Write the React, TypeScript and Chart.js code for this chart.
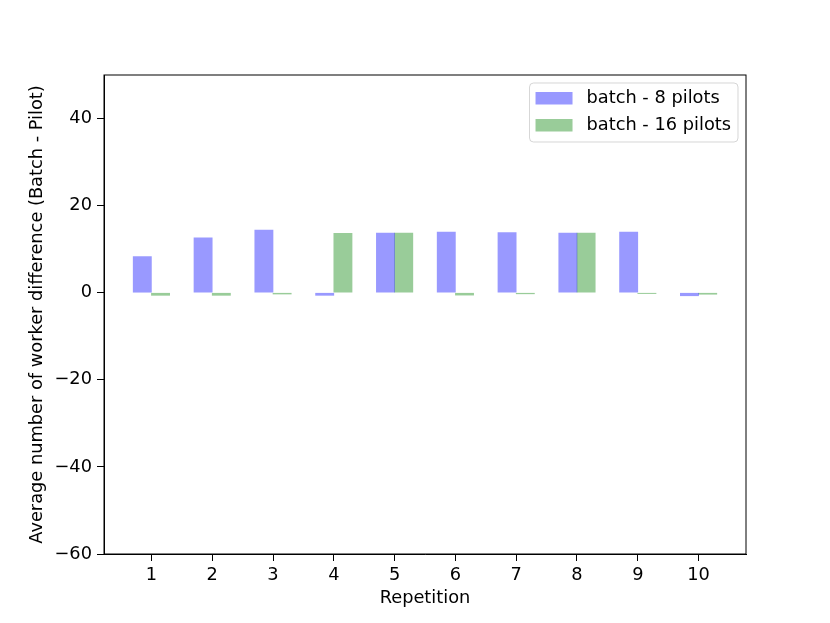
import React, { useEffect, useRef } from "react";
import { Chart, registerables } from "chart.js";

Chart.register(...registerables);

const REPETITIONS = [1, 2, 3, 4, 5, 6, 7, 8, 9, 10];
const BATCH_8 = [8.3, 12.6, 14.4, -0.6, 13.7, 13.9, 13.8, 13.7, 13.9, -0.7];
const BATCH_16 = [-0.6, -0.6, -0.3, 13.65, 13.7, -0.55, -0.25, 13.7, -0.2, -0.35];
const Y_TICKS = [-60, -40, -20, 0, 20, 40];
const SERIES_LABELS = ["batch - 8 pilots", "batch - 16 pilots"];

const FONT = "DejaVu Sans";
const FS = 17.8;

const fmt = (v: number) => (v < 0 ? "\u2212" + Math.abs(v) : String(v));

const framePlugin = {
  id: "frame",
  afterDraw(chart: any) {
    const { ctx, chartArea } = chart;
    ctx.save();
    ctx.strokeStyle = "#000";
    ctx.lineWidth = 1;
    ctx.strokeRect(chartArea.left, chartArea.top, chartArea.right - chartArea.left, chartArea.bottom - chartArea.top);
    ctx.restore();
  },
};

const legendPlugin = {
  id: "mplLegend",
  afterDraw(chart: any) {
    const { ctx, chartArea } = chart;
    const ds = chart.data.datasets;
    ctx.save();
    ctx.font = `${FS}px "${FONT}"`;
    let maxW = 0;
    ds.forEach((d: any) => {
      maxW = Math.max(maxW, ctx.measureText(d.label).width);
    });
    const w = 6 + 37 + 14 + maxW + 7;
    const h = 59;
    const x = chartArea.right - 8 - w;
    const y = chartArea.top + 8;
    const r = 4;
    ctx.beginPath();
    ctx.moveTo(x + r, y);
    ctx.lineTo(x + w - r, y);
    ctx.quadraticCurveTo(x + w, y, x + w, y + r);
    ctx.lineTo(x + w, y + h - r);
    ctx.quadraticCurveTo(x + w, y + h, x + w - r, y + h);
    ctx.lineTo(x + r, y + h);
    ctx.quadraticCurveTo(x, y + h, x, y + h - r);
    ctx.lineTo(x, y + r);
    ctx.quadraticCurveTo(x, y, x + r, y);
    ctx.closePath();
    ctx.fillStyle = "rgba(255,255,255,0.8)";
    ctx.fill();
    ctx.strokeStyle = "rgba(204,204,204,0.8)";
    ctx.lineWidth = 1;
    ctx.stroke();
    ds.forEach((d: any, i: number) => {
      const py = y + 9 + i * 27;
      ctx.fillStyle = d.backgroundColor;
      ctx.fillRect(x + 6, py, 37, 12.5);
      ctx.fillStyle = "#000";
      ctx.textBaseline = "middle";
      ctx.textAlign = "left";
      ctx.fillText(d.label, x + 6 + 37 + 14, py + 6.5);
    });
    ctx.restore();
  },
};

export default function App() {
  const ref = useRef<HTMLCanvasElement | null>(null);
  useEffect(() => {
    if (!ref.current) return;
    Chart.defaults.color = "#000";
    Chart.defaults.font.family = FONT;
    Chart.defaults.font.size = FS;
    const chart = new Chart(ref.current, {
      type: "bar",
      data: {
        datasets: [
          {
            label: SERIES_LABELS[0],
            data: REPETITIONS.map((r, i) => ({ x: r - 0.15, y: BATCH_8[i] })),
            backgroundColor: "rgba(0,0,255,0.4)",
            borderWidth: 0,
            grouped: false,
            categoryPercentage: 1,
            barPercentage: 1,
          } as any,
          {
            label: SERIES_LABELS[1],
            data: REPETITIONS.map((r, i) => ({ x: r + 0.15, y: BATCH_16[i] })),
            backgroundColor: "rgba(0,128,0,0.4)",
            borderWidth: 0,
            grouped: false,
            categoryPercentage: 1,
            barPercentage: 1,
          } as any,
        ],
      },
      options: {
        animation: false,
        responsive: true,
        maintainAspectRatio: false,
        layout: { padding: { top: 75, right: 84, left: 0, bottom: 0 } },
        plugins: { legend: { display: false }, tooltip: { enabled: false } },
        scales: {
          x: {
            type: "linear",
            min: 0.22,
            max: 10.78,
            offset: false,
            grid: { offset: false, drawOnChartArea: false, drawTicks: true, tickLength: 7, color: "#000" },
            border: { display: true, color: "#000", width: 1 },
            ticks: { autoSkip: false, maxRotation: 0, padding: 4, callback: (v: any) => String(v), font: { size: FS } },
            title: { display: true, text: "Repetition", font: { size: FS }, padding: { top: 0, bottom: 13.5 } },
            afterBuildTicks: (s: any) => {
              s.ticks = REPETITIONS.map((v) => ({ value: v }));
            },
            afterFit: (s: any) => {
              s.height = 69;
            },
          },
          y: {
            type: "linear",
            min: -60,
            max: 50,
            grid: { drawOnChartArea: false, drawTicks: true, tickLength: 7, color: "#000" },
            border: { display: true, color: "#000", width: 1 },
            ticks: { padding: 5, callback: (v: any) => fmt(Number(v)), font: { size: FS } },
            title: {
              display: true,
              text: "Average number of worker difference (Batch - Pilot)",
              font: { size: FS },
              padding: { top: 27, bottom: 0 },
            },
            afterBuildTicks: (s: any) => {
              s.ticks = Y_TICKS.map((v) => ({ value: v }));
            },
            afterFit: (s: any) => {
              s.width = 104;
            },
          },
        },
      } as any,
      plugins: [framePlugin, legendPlugin],
    });
    return () => chart.destroy();
  }, []);
  return (
    <div style={{ position: "absolute", left: 0, top: 0, width: 830, height: 623, background: "#fff" }}>
      <canvas ref={ref} />
    </div>
  );
}
